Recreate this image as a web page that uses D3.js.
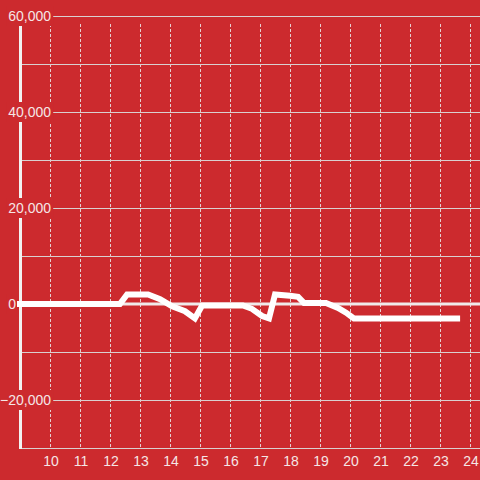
<!DOCTYPE html>
<html>
<head>
<meta charset="utf-8">
<script src="https://cdnjs.cloudflare.com/ajax/libs/d3/7.8.5/d3.min.js"></script>
<style>
  html, body { margin: 0; padding: 0; background: #cc2a2e; }
  svg { display: block; }
</style>
</head>
<body>
<div id="root"></div>
<script>
// hours of the day and value at each reading
var hours = [8.9, 12.33, 12.57, 13.27, 13.67, 14.07, 14.5, 14.83, 15.07, 16.43, 16.73, 17.07, 17.3, 17.5, 18.0, 18.27, 18.47, 19.2, 19.6, 19.87, 20.13, 23.67];
var values = [0, 0, 2000, 2000, 1000, -500, -1500, -3000, -300, -300, -1000, -2500, -3000, 2000, 1700, 1500, 200, 200, -800, -1800, -3000, -3000];
var xTicks = [10, 11, 12, 13, 14, 15, 16, 17, 18, 19, 20, 21, 22, 23, 24];
var yTicks = [60000, 40000, 20000, 0, -20000];
var yMinor = [50000, 30000, 10000, -10000];

var w = 480, h = 480;
var bg = '#cc2a2e';
var font = 'Liberation Sans, Arial, sans-serif';
var svg = d3.select('#root').append('svg').attr('width', w).attr('height', h);
svg.append('rect').attr('width', w).attr('height', h).attr('fill', bg);

var x = d3.scaleLinear().domain([9, 25]).range([20, 500]);
var y = d3.scaleLinear().domain([-30000, 60000]).range([448, 16]);

var data = hours.map(function (d, i) { return { h: d, v: values[i] }; });

// vertical dashed grid
svg.append('g')
    .selectAll('line')
    .data(xTicks)
    .enter()
    .append('line')
    .attr('x1', function (d) { return x(d) + 0.5; })
    .attr('x2', function (d) { return x(d) + 0.5; })
    .attr('y1', 24)
    .attr('y2', 448)
    .attr('stroke', '#e6d0d0')
    .attr('stroke-width', 1)
    .attr('stroke-dasharray', '3,2');

// horizontal grid
svg.append('g')
    .selectAll('line')
    .data(yTicks.concat(yMinor).filter(function (d) { return d !== 0; }))
    .enter()
    .append('line')
    .attr('x1', 20)
    .attr('x2', w)
    .attr('y1', function (d) { return Math.round(y(d)) + 0.5; })
    .attr('y2', function (d) { return Math.round(y(d)) + 0.5; })
    .attr('stroke', '#d9d0d0')
    .attr('stroke-width', 1);

// bottom axis line
svg.append('line')
    .attr('x1', 20).attr('x2', w)
    .attr('y1', 448.5).attr('y2', 448.5)
    .attr('stroke', '#d9d0d0')
    .attr('stroke-width', 1);

// left axis line
svg.append('line')
    .attr('x1', 20.5).attr('x2', 20.5)
    .attr('y1', 24).attr('y2', 449)
    .attr('stroke', '#f2f2f2')
    .attr('stroke-width', 3);

// zero line
svg.append('line')
    .attr('x1', 20).attr('x2', w)
    .attr('y1', y(0)).attr('y2', y(0))
    .attr('stroke', '#f0eaea')
    .attr('stroke-width', 3);

// y labels with background
var yl = svg.append('g')
    .selectAll('g')
    .data(yTicks)
    .enter()
    .append('g')
    .attr('transform', function (d) { return 'translate(0,' + y(d) + ')'; });
yl.append('text')
    .attr('x', function (d) { return d === 0 ? 16 : 51; })
    .attr('dy', '0.35em')
    .attr('text-anchor', 'end')
    .attr('font-family', font)
    .attr('font-size', 14)
    .attr('fill', '#f5e6e6')
    .text(function (d) { return d3.format(',')(d); });
yl.insert('rect', 'text')
    .each(function () {
        var b = this.nextSibling.getBBox();
        d3.select(this)
            .attr('x', b.x - 2)
            .attr('y', -10)
            .attr('width', b.width + 4)
            .attr('height', 20);
    })
    .attr('fill', bg);

// data line
var line = d3.line()
    .x(function (d) { return x(d.h); })
    .y(function (d) { return y(d.v); });
svg.append('path')
    .datum(data)
    .attr('d', line)
    .attr('fill', 'none')
    .attr('stroke', '#ffffff')
    .attr('stroke-width', 6)
    .attr('stroke-linejoin', 'miter');

// x labels
svg.append('g')
    .selectAll('text')
    .data(xTicks)
    .enter()
    .append('text')
    .attr('x', function (d) { return x(d) + 1; })
    .attr('y', 461)
    .attr('dy', '0.35em')
    .attr('text-anchor', 'middle')
    .attr('font-family', font)
    .attr('font-size', 14)
    .attr('fill', '#f5e6e6')
    .text(function (d) { return d; });
</script>
</body>
</html>
